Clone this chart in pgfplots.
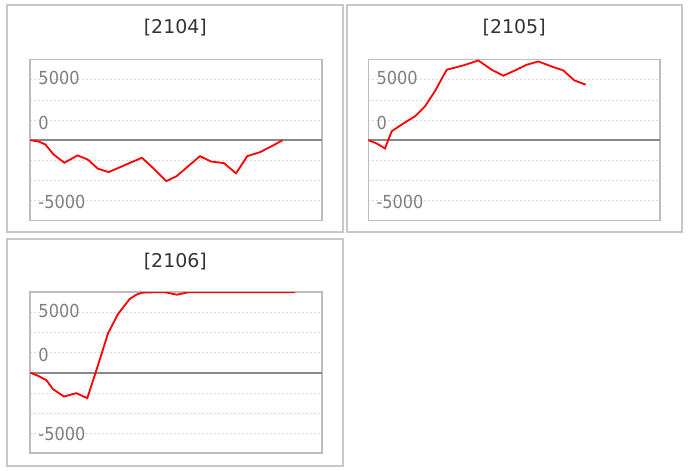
\documentclass[border=0pt]{standalone}
\usepackage{fontspec}
\setmainfont{DejaVu Sans}
\newfontfamily\tickfont{DejaVu Sans Condensed}
\usepackage{pgfplots}
\pgfplotsset{compat=1.18}
\definecolor{framegray}{HTML}{C8C8C8}
\definecolor{axgray}{HTML}{BDBDBD}
\definecolor{zerogray}{HTML}{888888}
\definecolor{gridgray}{HTML}{DADADA}
\definecolor{tickgray}{HTML}{7F7F7F}
\definecolor{titlegray}{HTML}{333333}
\pgfplotsset{panel/.style={
  scale only axis, width=291.5bp, height=161bp,
  xmin=0, xmax=291.5, ymin=-10000, ymax=10000,
  scaled y ticks=false,
  xtick=\empty, ytick={-7500,-5000,-2500,2500,5000,7500}, yticklabels={},
  ymajorgrids, major grid style={gridgray, dash pattern=on 2bp off 2bp, line width=0.8bp},
  major tick length=0pt,
  extra y ticks={0}, extra y tick labels={},
  extra y tick style={major grid style={solid, zerogray, line width=1.5bp}},
  axis line style={axgray, line width=1.6bp},
  anchor=south west,
}}
\pgfplotsset{pnl/.style={red, line width=1.8bp, mark=none}}
\newcommand{\ticklabels}{%
  \node[anchor=west, inner sep=0pt, text=tickgray, font=\tickfont\fontsize{18}{18}\selectfont] at (axis cs:8,7700) {5000};
  \node[anchor=west, inner sep=0pt, text=tickgray, font=\tickfont\fontsize{18}{18}\selectfont] at (axis cs:8,2200) {0};
  \node[anchor=west, inner sep=0pt, text=tickgray, font=\tickfont\fontsize{18}{18}\selectfont] at (axis cs:8,-7650) {-5000};
}
\begin{document}
\begin{tikzpicture}
\useasboundingbox (0,0) rectangle (688bp,471bp);
% panel frames
\draw[framegray, line width=2bp] (7.3bp,239.3bp) rectangle (343.3bp,466bp);
\draw[framegray, line width=2bp] (346.7bp,239.3bp) rectangle (681.7bp,466bp);
\draw[framegray, line width=2bp] (7.3bp,5.3bp) rectangle (343.3bp,232bp);
% titles
\node[text=titlegray, font=\fontsize{19}{19}\selectfont] at (175.3bp,443bp) {[2104]};
\node[text=titlegray, font=\fontsize{19}{19}\selectfont] at (514.2bp,443bp) {[2105]};
\node[text=titlegray, font=\fontsize{19}{19}\selectfont] at (175.3bp,209.5bp) {[2106]};

\begin{axis}[panel, at={(30.3bp,250.3bp)}]
\addplot[pnl] coordinates {
(0,0) (8.3,-160) (15,-530) (23.3,-1770) (34,-2800) (47.3,-1890) (57.3,-2390)
(67.6,-3540) (78.3,-3960) (90,-3340) (100,-2800) (111.6,-2180) (124.3,-3630)
(136,-5080) (146.4,-4460) (158,-3220) (169.7,-1980) (180.4,-2640) (193.7,-2850)
(205.7,-4120) (217,-1980) (229.7,-1490) (241.4,-740) (252.4,0)
};
\ticklabels
\end{axis}

\begin{axis}[panel, at={(368.3bp,250.3bp)}]
\addplot[pnl] coordinates {
(0,0) (8.4,-410) (16.7,-1030) (23.4,1115) (35,2070) (46.7,2970) (56.7,4210)
(66.7,6100) (78.4,8750) (95,9290) (110,9900) (123.4,8750) (135,8010)
(146.7,8670) (158.4,9370) (170,9780) (183.4,9160) (195,8670) (206,7430) (217.4,6900)
};
\ticklabels
\end{axis}

\begin{axis}[panel, at={(30.3bp,17.7bp)}]
\addplot[pnl] coordinates {
(0,0) (7.7,-370) (16,-910) (22.7,-2030) (33.7,-2950) (46,-2530) (57,-3150)
(67.5,870) (77.7,4890) (87.7,7300) (99.4,9170) (106,9700) (111.4,9950)
(123,10000) (135,10000) (146.4,9700) (158,10000) (170,10000) (181,10000)
(193,10000) (204,10000) (216,10000) (228,10000) (240,10000) (252,10000) (264.7,10000)
};
\ticklabels
\end{axis}
\end{tikzpicture}
\end{document}
